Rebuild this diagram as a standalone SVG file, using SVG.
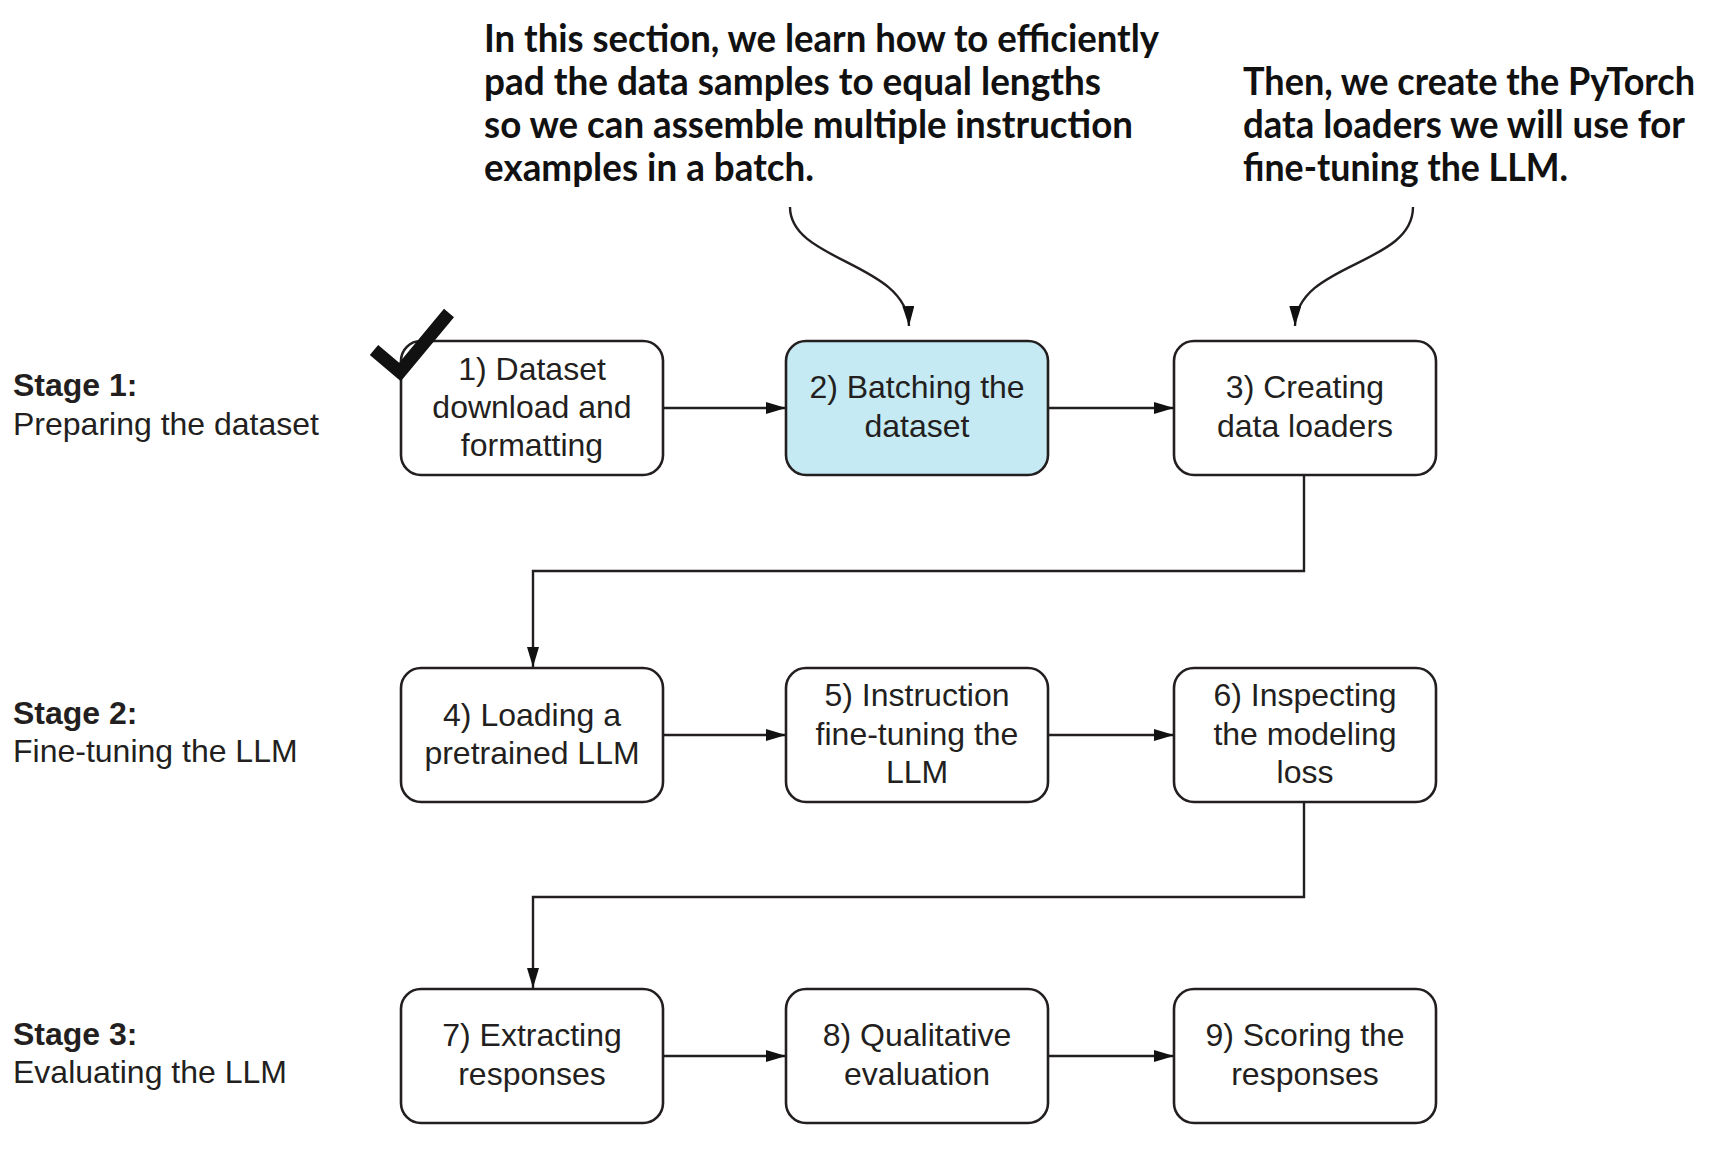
<svg xmlns="http://www.w3.org/2000/svg" width="1722" height="1170" viewBox="0 0 1722 1170">
<defs>
<style>
.box{fill:#fff;stroke:#231f20;stroke-width:2.6}
.hl{fill:#c6eaf3}
.lbl{font-family:"Liberation Sans",Arial,sans-serif;font-size:32px;fill:#231f20;text-anchor:middle}
.stg{font-family:"Liberation Sans",Arial,sans-serif;font-size:32px;fill:#231f20}
.stg tspan.b{font-weight:bold}
.ann{font-family:Lato,"Open Sans",sans-serif;font-weight:bold;font-size:39px;fill:#111}
.conn{fill:none;stroke:#231f20;stroke-width:2.4}
</style>
<marker id="ah" viewBox="0 0 20 12" refX="20" refY="6" markerWidth="20" markerHeight="12" markerUnits="userSpaceOnUse" orient="auto">
<path d="M0,0 L20,6 L0,12 Z" fill="#111"/>
</marker>
</defs>
<rect width="1722" height="1170" fill="#fff"/>

<g id="annotation-left">
<text class="ann" x="484" y="52" textLength="675" lengthAdjust="spacingAndGlyphs">In this section, we learn how to efficiently</text>
<text class="ann" x="484" y="95" textLength="617" lengthAdjust="spacingAndGlyphs">pad the data samples to equal lengths</text>
<text class="ann" x="484" y="138" textLength="649" lengthAdjust="spacingAndGlyphs">so we can assemble multiple instruction</text>
<text class="ann" x="484" y="181" textLength="330" lengthAdjust="spacingAndGlyphs">examples in a batch.</text>
</g>
<g id="annotation-right">
<text class="ann" x="1243" y="95" textLength="452" lengthAdjust="spacingAndGlyphs">Then, we create the PyTorch</text>
<text class="ann" x="1243" y="138" textLength="442" lengthAdjust="spacingAndGlyphs">data loaders we will use for</text>
<text class="ann" x="1243" y="181" textLength="325" lengthAdjust="spacingAndGlyphs">fine-tuning the LLM.</text>
</g>

<g id="stage1">
<text class="stg" x="13" y="396"><tspan class="b">Stage 1:</tspan></text>
<text class="stg" x="13" y="435">Preparing the dataset</text>
</g>
<g id="stage2">
<text class="stg" x="13" y="724"><tspan class="b">Stage 2:</tspan></text>
<text class="stg" x="13" y="762">Fine-tuning the LLM</text>
</g>
<g id="stage3">
<text class="stg" x="13" y="1045"><tspan class="b">Stage 3:</tspan></text>
<text class="stg" x="13" y="1083">Evaluating the LLM</text>
</g>

<g id="connectors">
<path class="conn" d="M790,207 C790,262 907,262 909,326" marker-end="url(#ah)"/>
<path class="conn" d="M1413,207 C1413,266 1296,262 1295,326" marker-end="url(#ah)"/>
<path class="conn" d="M663,408 L786,408" marker-end="url(#ah)"/>
<path class="conn" d="M1048,408 L1174,408" marker-end="url(#ah)"/>
<path class="conn" d="M1304,475 L1304,571 L533,571 L533,667" marker-end="url(#ah)"/>
<path class="conn" d="M663,735 L786,735" marker-end="url(#ah)"/>
<path class="conn" d="M1048,735 L1174,735" marker-end="url(#ah)"/>
<path class="conn" d="M1304,802 L1304,897 L533,897 L533,988" marker-end="url(#ah)"/>
<path class="conn" d="M663,1056 L786,1056" marker-end="url(#ah)"/>
<path class="conn" d="M1048,1056 L1174,1056" marker-end="url(#ah)"/>
</g>

<g id="node1">
<rect class="box" x="401" y="341" width="262" height="134" rx="20"/>
<text class="lbl" x="532" y="380">1) Dataset</text>
<text class="lbl" x="532" y="418">download and</text>
<text class="lbl" x="532" y="456">formatting</text>
</g>
<g id="checkmark">
<polyline points="374,350 400,372 449,313" fill="none" stroke="#111" stroke-width="13" stroke-linejoin="miter" stroke-linecap="butt"/>
</g>
<g id="node2">
<rect class="box hl" x="786" y="341" width="262" height="134" rx="20"/>
<text class="lbl" x="917" y="398">2) Batching the</text>
<text class="lbl" x="917" y="437">dataset</text>
</g>
<g id="node3">
<rect class="box" x="1174" y="341" width="262" height="134" rx="20"/>
<text class="lbl" x="1305" y="398">3) Creating</text>
<text class="lbl" x="1305" y="437">data loaders</text>
</g>

<g id="node4">
<rect class="box" x="401" y="668" width="262" height="134" rx="20"/>
<text class="lbl" x="532" y="726">4) Loading a</text>
<text class="lbl" x="532" y="764">pretrained LLM</text>
</g>
<g id="node5">
<rect class="box" x="786" y="668" width="262" height="134" rx="20"/>
<text class="lbl" x="917" y="706">5) Instruction</text>
<text class="lbl" x="917" y="745">fine-tuning the</text>
<text class="lbl" x="917" y="783">LLM</text>
</g>
<g id="node6">
<rect class="box" x="1174" y="668" width="262" height="134" rx="20"/>
<text class="lbl" x="1305" y="706">6) Inspecting</text>
<text class="lbl" x="1305" y="745">the modeling</text>
<text class="lbl" x="1305" y="783">loss</text>
</g>

<g id="node7">
<rect class="box" x="401" y="989" width="262" height="134" rx="20"/>
<text class="lbl" x="532" y="1046">7) Extracting</text>
<text class="lbl" x="532" y="1085">responses</text>
</g>
<g id="node8">
<rect class="box" x="786" y="989" width="262" height="134" rx="20"/>
<text class="lbl" x="917" y="1046">8) Qualitative</text>
<text class="lbl" x="917" y="1085">evaluation</text>
</g>
<g id="node9">
<rect class="box" x="1174" y="989" width="262" height="134" rx="20"/>
<text class="lbl" x="1305" y="1046">9) Scoring the</text>
<text class="lbl" x="1305" y="1085">responses</text>
</g>
</svg>
